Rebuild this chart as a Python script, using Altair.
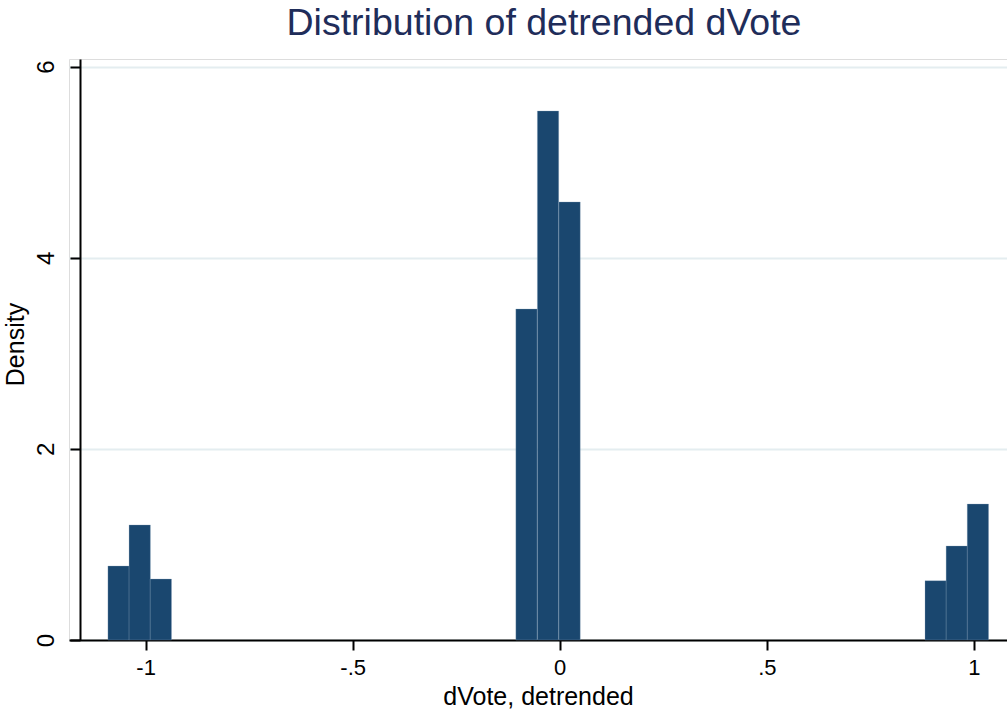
import altair as alt
import pandas as pd

# Histogram of detrended dVote (density scale)
bin_lo = [-1.091, -1.040, -0.989, -0.106, -0.054, -0.002, 0.882, 0.933, 0.984]
bin_width = 0.0515
density = [0.774, 1.204, 0.638, 3.464, 5.536, 4.584, 0.621, 0.984, 1.423]

x_ticks = [-1, -0.5, 0, 0.5, 1]
y_ticks = [0, 2, 4, 6]

df = pd.DataFrame({
    "lo": bin_lo,
    "hi": [b + bin_width for b in bin_lo],
    "density": density,
})

FONT = "Liberation Sans"
BAR = "#1a476f"

bars = alt.Chart(df).mark_rect(color=BAR, stroke="#8ea6bd", strokeWidth=0.3).encode(
    x=alt.X(
        "lo:Q",
        scale=alt.Scale(domain=[-1.185, 1.08], nice=False, zero=False),
        axis=alt.Axis(
            values=x_ticks,
            title="dVote, detrended",
            labelExpr="replace(toString(datum.value), regexp('^(-?)0\\\\.'), '$1.')",
            grid=False,
            domainColor="black",
            domainWidth=2,
            tickColor="black",
            tickWidth=2,
            tickSize=10,
            labelFontSize=22,
            labelPadding=7,
            labelColor="black",
            labelFont=FONT,
            titleFont=FONT,
            titleFontSize=25,
            titleFontWeight="normal",
            titleColor="black",
            titlePadding=6,
        ),
    ),
    x2="hi:Q",
    y=alt.Y(
        "density:Q",
        scale=alt.Scale(domain=[0, 6.08], nice=False),
        axis=alt.Axis(
            values=y_ticks,
            title="Density",
            offset=-11,
            grid=True,
            gridColor="#e4edf0",
            gridWidth=2,
            domainColor="black",
            domainWidth=2,
            tickColor="black",
            tickWidth=2,
            tickSize=10,
            labelAngle=-90,
            labelAlign="center",
            labelBaseline="alphabetic",
            labelPadding=17,
            labelFontSize=24,
            labelColor="black",
            labelFont=FONT,
            titleFont=FONT,
            titleFontSize=25,
            titleFontWeight="normal",
            titleColor="black",
            titleAngle=-90,
            titleAlign="center",
            titleBaseline="alphabetic",
            titleX=-57,
            titleY=285,
        ),
    ),
    y2=alt.datum(0),
)

chart = bars.properties(
    width=938,
    height=581,
    autosize=alt.AutoSizeParams(type="none"),
    padding={"left": 69, "top": 59, "right": 0, "bottom": 75},
    title=alt.TitleParams(
        text="Distribution of detrended dVote",
        font=FONT,
        fontSize=37.5,
        fontWeight="normal",
        color="#1f2d5a",
        anchor="middle",
        frame="group",
        offset=17,
        dx=6,
    ),
).configure_view(stroke=None).configure(background="white")

chart.save("out.html", embed_options={"renderer": "svg", "actions": False})
